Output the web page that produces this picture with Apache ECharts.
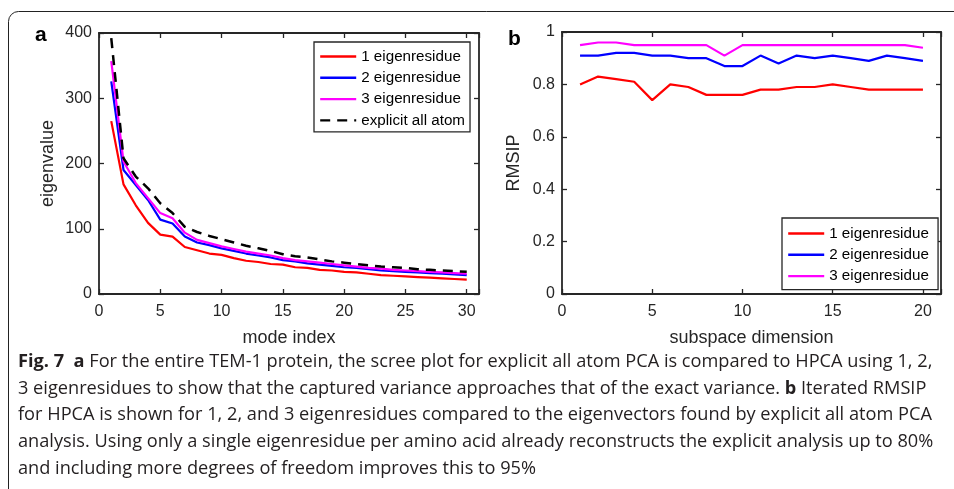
<!DOCTYPE html>
<html>
<head>
<meta charset="utf-8">
<script src="https://cdn.jsdelivr.net/npm/echarts@6/dist/echarts.min.js"></script>
<style>
html,body{margin:0;padding:0;background:#fff;}
#c{width:954px;height:489px;}
</style>
</head>
<body>
<div id="c"></div>
<script>
// ---- data ----
var modeIndex = [1,2,3,4,5,6,7,8,9,10,11,12,13,14,15,16,17,18,19,20,21,22,23,24,25,26,27,28,29,30];
var eig1 = [265,168,136,109,91,88,72,67,62,60,55,51,49,46,45,41,40,37,36,34,33,31,29,28,27,26,25,24,23,22];
var eig2 = [326,190,167,144,114,108,88,79,75,70,66,62,59,56,52,50,47,45,43,41,40,38,36,35,34,33,32,31,30,29];
var eig3 = [357,203,170,147,124,116,94,83,78,73,69,65,62,59,55,52,50,48,46,44,42,40,39,37,36,35,34,33,32,31];
var eigAll = [392,208,180,162,139,124,103,95,89,84,79,74,70,66,61,58,56,53,50,48,46,44,42,41,40,38,37,36,35,34];

var subspaceDim = [1,2,3,4,5,6,7,8,9,10,11,12,13,14,15,16,17,18,19,20];
var rmsip1 = [0.80,0.83,0.82,0.81,0.74,0.80,0.79,0.76,0.76,0.76,0.78,0.78,0.79,0.79,0.80,0.79,0.78,0.78,0.78,0.78];
var rmsip2 = [0.91,0.91,0.92,0.92,0.91,0.91,0.90,0.90,0.87,0.87,0.91,0.88,0.91,0.90,0.91,0.90,0.89,0.91,0.90,0.89];
var rmsip3 = [0.95,0.96,0.96,0.95,0.95,0.95,0.95,0.95,0.91,0.95,0.95,0.95,0.95,0.95,0.95,0.95,0.95,0.95,0.95,0.94];

var leftNames = ['1 eigenresidue','2 eigenresidue','3 eigenresidue','explicit all atom'];
var rightNames = ['1 eigenresidue','2 eigenresidue','3 eigenresidue'];

var captionLines = [
  '{b|Fig. 7}  {b|a} For the entire TEM-1 protein, the scree plot for explicit all atom PCA is compared to HPCA using 1, 2,',
  '3 eigenresidues to show that the captured variance approaches that of the exact variance. {b|b} Iterated RMSIP',
  'for HPCA is shown for 1, 2, and 3 eigenresidues compared to the eigenvectors found by explicit all atom PCA',
  'analysis. Using only a single eigenresidue per amino acid already reconstructs the explicit analysis up to 80%',
  'and including more degrees of freedom improves this to 95%'
];

// ---- chart ----
var FONT = 'Liberation Sans, Arial, sans-serif';
var CAPFONT = 'Open Sans, sans-serif';
var AX = '#262626';
function pairs(xs, ys){ return xs.map(function(x,i){ return [x, ys[i]]; }); }

function xAx(grid, max, pos, name, show){
  return {
    type:'value', gridIndex:grid, min:0, max:max, interval:5, position:pos,
    name: name || '', nameLocation:'middle', nameGap:35,
    nameTextStyle:{fontFamily:FONT,fontSize:18,color:AX},
    axisLine:{show:true,onZero:false,lineStyle:{color:AX,width:1.8}},
    axisTick:{show:true,inside:true,length:5,lineStyle:{color:AX,width:1.3}},
    axisLabel:{show:show,fontFamily:FONT,fontSize:16,color:AX,margin:10,
      formatter:function(v){ return (v % 5 === 0) ? String(v) : ''; }},
    splitLine:{show:false}
  };
}
function yAx(grid, max, interval, pos, name, gap, show){
  return {
    type:'value', gridIndex:grid, min:0, max:max, interval:interval, position:pos,
    name: name || '', nameLocation:'middle', nameGap:gap, nameRotate:90,
    nameTextStyle:{fontFamily:FONT,fontSize:18,color:AX},
    axisLine:{show:true,onZero:false,lineStyle:{color:AX,width:1.8}},
    axisTick:{show:true,inside:true,length:5,lineStyle:{color:AX,width:1.3}},
    axisLabel:{show:show,fontFamily:FONT,fontSize:16,color:AX,margin:7,
      formatter:function(v){ return String(Math.round(v*10)/10); }},
    splitLine:{show:false}
  };
}
function line(name, x, y, xi, yi, color, dashed){
  return {
    type:'line', name:name, xAxisIndex:xi, yAxisIndex:yi,
    data:pairs(x,y), symbol:'none', showSymbol:false, silent:true,
    lineStyle:{color:color, width: dashed ? 2.5 : 2.2, type: dashed ? [10,7] : 'solid'},
    itemStyle:{color:color}, z: dashed ? 3 : 2
  };
}
function legendBox(names, left, top, padding){
  return {
    data:names.map(function(n){return {name:n};}),
    left:left, top:top, orient:'vertical',
    itemWidth:36, itemHeight:14, itemGap:6.3,
    padding:padding,
    borderColor:'#262626', borderWidth:1.3, backgroundColor:'#fff',
    itemStyle:{color:'rgba(0,0,0,0)', borderColor:'rgba(0,0,0,0)', borderWidth:0, opacity:0},
    lineStyle:{width:2.4},
    textStyle:{fontFamily:FONT,fontSize:15.2,color:'#000'},
    selectedMode:false
  };
}

var captionGraphics = captionLines.map(function(t, i){
  return {
    type:'text', x:18, y:362 + i*26.6,
    style:{
      text:t, fill:'#231f20', fontFamily:CAPFONT, fontSize:18.2, verticalAlign:'middle',
      rich:{ b:{fontWeight:'bold', fontFamily:CAPFONT, fontSize:18.2, fill:'#231f20'} }
    }
  };
});

var option = {
  animation:false,
  grid:[
    {left:99, top:33, width:380, height:261},
    {left:562, top:32, width:379, height:262}
  ],
  xAxis:[
    xAx(0, 31, 'bottom', 'mode index', true),
    xAx(0, 31, 'top', '', false),
    xAx(1, 21, 'bottom', 'subspace dimension', true),
    xAx(1, 21, 'top', '', false)
  ],
  yAxis:[
    yAx(0, 400, 100, 'left', 'eigenvalue', 42, true),
    yAx(0, 400, 100, 'right', '', 0, false),
    yAx(1, 1, 0.2, 'left', 'RMSIP', 39, true),
    yAx(1, 1, 0.2, 'right', '', 0, false)
  ],
  legend:[
    legendBox(leftNames, 314, 42, [7,5,4,5]),
    legendBox(rightNames.map(function(n){return n+' ';}), 782, 218, [8,5,6,5])
  ],
  series:[
    line(leftNames[0], modeIndex, eig1, 0, 0, '#ff0000', false),
    line(leftNames[1], modeIndex, eig2, 0, 0, '#0000ff', false),
    line(leftNames[2], modeIndex, eig3, 0, 0, '#ff00ff', false),
    line(leftNames[3], modeIndex, eigAll, 0, 0, '#000000', true),
    line(rightNames[0]+' ', subspaceDim, rmsip1, 2, 2, '#ff0000', false),
    line(rightNames[1]+' ', subspaceDim, rmsip2, 2, 2, '#0000ff', false),
    line(rightNames[2]+' ', subspaceDim, rmsip3, 2, 2, '#ff00ff', false)
  ],
  graphic:[
    {type:'rect', shape:{x:8.5, y:11.5, width:1100, height:700, r:10}, style:{fill:'none', stroke:'#222', lineWidth:1}, silent:true},
    {type:'text', left:35, top:25, style:{text:'a', fontFamily:FONT, fontWeight:'bold', fontSize:21, fill:'#000'}},
    {type:'text', left:508, top:29, style:{text:'b', fontFamily:FONT, fontWeight:'bold', fontSize:21, fill:'#000'}}
  ].concat(captionGraphics)
};

var chart = echarts.init(document.getElementById('c'), null, {renderer:'canvas'});
chart.setOption(option);
</script>
</body>
</html>
